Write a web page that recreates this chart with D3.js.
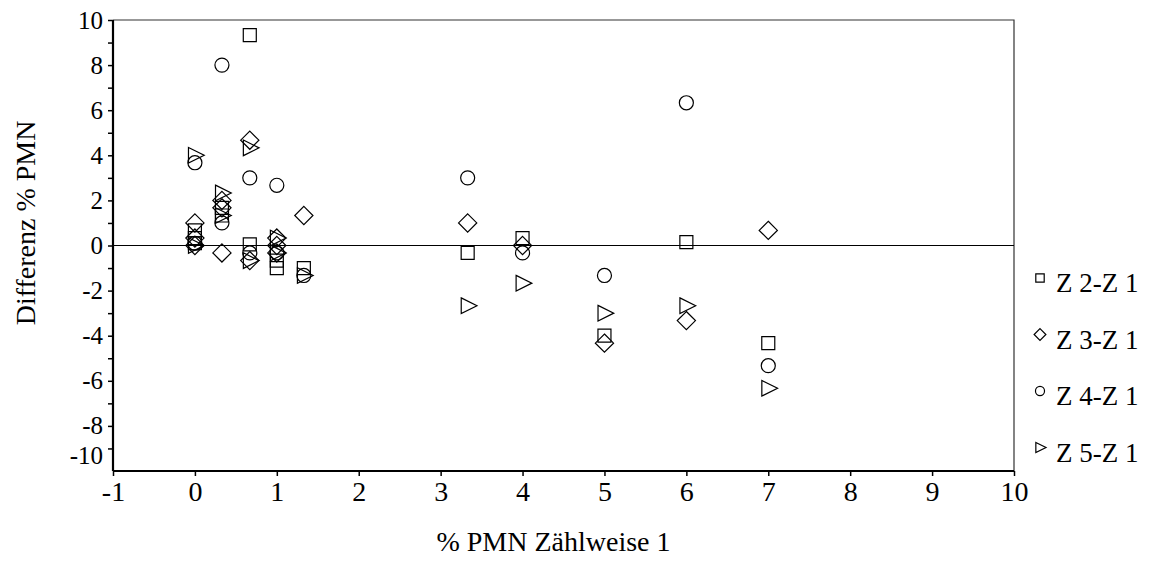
<!DOCTYPE html>
<html>
<head>
<meta charset="utf-8">
<script src="https://cdn.jsdelivr.net/npm/d3@7"></script>
<style>
  body { margin: 0; background: #fff; }
  svg text { font-family: "Liberation Serif", serif !important; fill: #000; }
</style>
</head>
<body>
<svg id="drawing_region"></svg>
<script>
// differences of % PMN (counting methods 2..5 minus method 1) vs % PMN of method 1
const z2x = [0, 0, 0, 0.33, 0.33, 0.67, 0.67, 1, 1, 1.33, 3.33, 4, 5, 6, 7];
const z2y = [0.67, 0.33, 0.1, 1.67, 1.33, 9.33, 0.05, -0.67, -1.0, -1.0, -0.33, 0.33, -4.0, 0.15, -4.33];

const z3x = [0, 0, 0, 0.33, 0.33, 0.33, 0.67, 0.67, 1, 1, 1, 1.33, 3.33, 4, 5, 6, 7];
const z3y = [1.0, 0.33, 0.0, 2.0, 1.67, -0.33, 4.67, -0.67, 0.33, 0.0, -0.33, 1.33, 1.0, 0.0, -4.33, -3.33, 0.67];

const z4x = [0, 0, 0.33, 0.33, 0.67, 0.67, 1, 1, 1.33, 3.33, 4, 5, 6, 7];
const z4y = [3.67, 0.1, 8.0, 1.0, 3.0, -0.33, 2.67, -0.33, -1.33, 3.0, -0.33, -1.33, 6.33, -5.33];

const z5x = [0, 0, 0.33, 0.33, 0.67, 0.67, 1, 1, 1.33, 3.33, 4, 5, 6, 7];
const z5y = [4.0, 0.0, 2.33, 1.33, 4.33, -0.67, 0.33, -0.33, -1.33, -2.67, -1.67, -3.0, -2.67, -6.33];

const seriesNames = ["Z 2-Z 1", "Z 3-Z 1", "Z 4-Z 1", "Z 5-Z 1"];
const seriesShapes = ["square", "diamond", "circle", "triangle"];
const seriesX = [z2x, z3x, z4x, z5x];
const seriesY = [z2y, z3y, z4y, z5y];

const xTicks = [-1, 0, 1, 2, 3, 4, 5, 6, 7, 8, 9, 10];
const yTicks = [-9, -8, -7, -6, -5, -4, -3, -2, -1, 0, 1, 2, 3, 4, 5, 6, 7, 8, 9, 10];

const config = {
    width: 1150,
    height: 576,
    left: 113, right: 1014, top: 20, bottom: 471
};

const svg = d3.select('#drawing_region')
    .attr('width', config.width)
    .attr('height', config.height);

const xscale = d3.scaleLinear().domain([-1, 10]).range([config.left, config.right]);
const yscale = d3.scaleLinear().domain([-10, 10]).range([config.bottom, config.top]);

// marker path generator, centred on 0,0
function shapePath(shape, s) {
    if (shape == "square") return `M${-s},${-s}H${s}V${s}H${-s}Z`;
    if (shape == "diamond") { const d = s * 1.4; return `M0,${-d}L${d},0L0,${d}L${-d},0Z`; }
    if (shape == "triangle") { const w = s * 1.1, h = s * 1.2; return `M${-w * 0.9},${-h}L${w * 1.3},0L${-w * 0.9},${h}Z`; }
    return null;
}

function drawMarker(g, shape, s) {
    if (shape == "circle") {
        g.append('circle').attr('r', s * 1.08)
            .attr('fill', 'none').attr('stroke', '#000').attr('stroke-width', 1.2);
    } else {
        g.append('path').attr('d', shapePath(shape, s))
            .attr('fill', 'none').attr('stroke', '#000').attr('stroke-width', 1.2);
    }
}

// frame top/right
svg.append('path')
    .attr('d', `M${config.left},${config.top}H${config.right}V${config.bottom}`)
    .attr('fill', 'none').attr('stroke', '#333').attr('stroke-width', 1.2);

// zero line
svg.append('line')
    .attr('x1', config.left).attr('x2', config.right)
    .attr('y1', yscale(0)).attr('y2', yscale(0))
    .attr('stroke', '#000').attr('stroke-width', 1.2);

// points
seriesX.forEach((xs, i) => {
    const pts = xs.map((x, j) => ({ x: x, y: seriesY[i][j] }));
    svg.append('g').selectAll('g')
        .data(pts)
        .join('g')
        .attr('transform', d => `translate(${xscale(d.x)},${yscale(d.y)})`)
        .each(function() { drawMarker(d3.select(this), seriesShapes[i], 6.5); });
});

// axes
const xaxis = d3.axisBottom(xscale).tickValues(xTicks).tickSize(5).tickPadding(5).tickFormat(d => String(d));
const yaxis = d3.axisLeft(yscale).tickValues(yTicks).tickSize(5).tickPadding(5)
    .tickFormat(d => d == -9 ? "-10" : (d % 2 == 0 ? String(d) : ""));

const xg = svg.append('g').attr('transform', `translate(0,${config.bottom})`).call(xaxis);
const yg = svg.append('g').attr('transform', `translate(${config.left},0)`).call(yaxis);

[xg, yg].forEach(g => {
    g.attr('font-family', '"Liberation Serif", serif');
    g.select('.domain').attr('stroke', '#000').attr('stroke-width', 2.2);
    g.selectAll('.tick line').attr('stroke', '#000').attr('stroke-width', 1.5);
});
xg.selectAll('.tick text').attr('font-size', 28);
yg.selectAll('.tick text').attr('font-size', 25);
xg.select('.domain').attr('d', `M${config.left},0H${config.right}`);
yg.select('.domain').attr('d', `M0,${config.top}V${config.bottom}`);
// -10 label sits a little below the -9 tick
yg.selectAll('.tick').filter(d => d == -9).select('text').attr('dy', '0.6em');

// axis titles
svg.append('text')
    .attr('x', (config.left + config.right) / 2 - 10)
    .attr('y', 551)
    .attr('text-anchor', 'middle')
    .attr('font-size', 28)
    .text('% PMN Zählweise 1');

svg.append('text')
    .attr('transform', `translate(35,${yscale(1)}) rotate(-90)`)
    .attr('text-anchor', 'middle')
    .attr('font-size', 28)
    .text('Differenz % PMN');

// legend
const legend = svg.append('g');
seriesNames.forEach((name, i) => {
    const y = 283 + i * 56.5;
    const g = legend.append('g').attr('transform', `translate(1040,${y - 5})`);
    drawMarker(g, seriesShapes[i], 4.2);
    legend.append('text')
        .attr('x', 1056).attr('y', y + 9)
        .attr('font-size', 27)
        .text(name);
});
</script>
</body>
</html>
